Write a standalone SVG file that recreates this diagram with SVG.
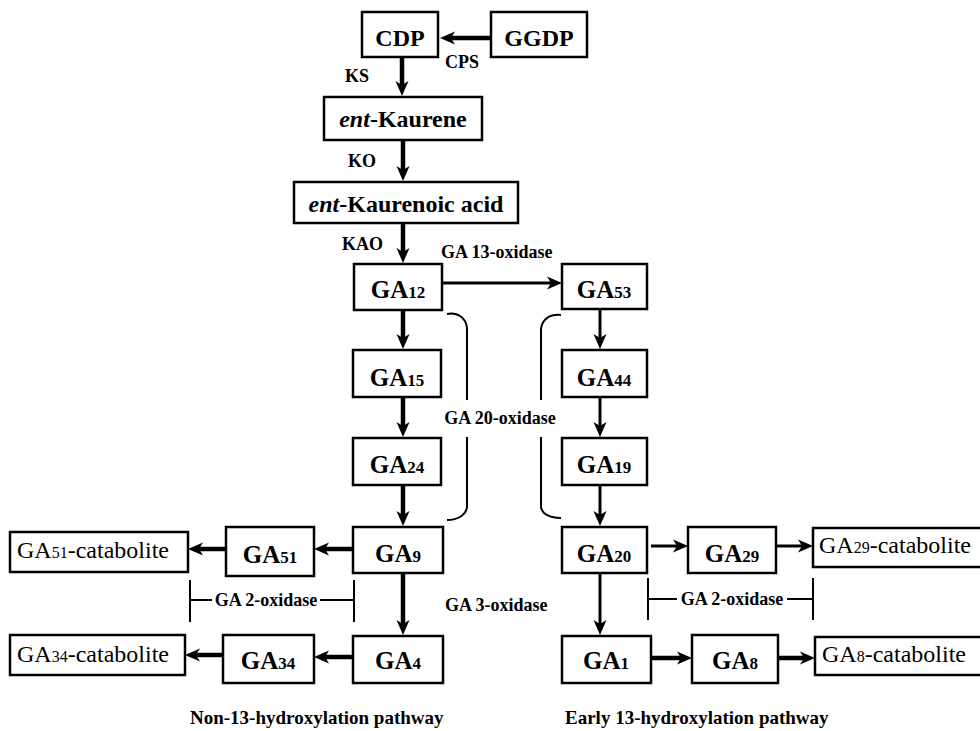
<svg xmlns="http://www.w3.org/2000/svg" width="980" height="731" viewBox="0 0 980 731">
<style>
.box{fill:#fff;stroke:#000;stroke-width:2.5}
.n{font-family:"Liberation Serif","Times New Roman",serif;font-weight:bold;font-size:24px;text-anchor:middle;fill:#000}
.ga{font-family:"Liberation Serif","Times New Roman",serif;font-weight:bold;font-size:25px;text-anchor:middle;fill:#000}
.sub{font-size:17px}
.cat{font-family:"Liberation Serif","Times New Roman",serif;font-size:24px;fill:#000}
.csub{font-size:16px}
.enz{font-family:"Liberation Serif","Times New Roman",serif;font-weight:bold;font-size:18px;fill:#000}
.foot{font-family:"Liberation Serif","Times New Roman",serif;font-weight:bold;font-size:19px;fill:#000}
.c{fill:none;stroke:#000;marker-end:url(#ah)}
.thick{stroke-width:4.5}
.thin{stroke-width:3}
.br{fill:none;stroke:#000;stroke-width:2}
</style>
<defs>
<marker id="ah" markerUnits="userSpaceOnUse" markerWidth="16" markerHeight="14" viewBox="0 -7 16 14" refX="7" refY="0" orient="auto">
<path d="M0,-6.5 L15,0 L0,6.5 L4,0 z" fill="#000"/>
</marker>
</defs>

<g id="connectors">
<path class="c thick" d="M491,38 H448"/>
<path class="c thick" d="M402,57 V88"/>
<path class="c thick" d="M403,140 V173"/>
<path class="c thick" d="M403,223 V255"/>
<path class="c thin" d="M442,283 H554"/>
<path class="c thick" d="M403,310 V341"/>
<path class="c thick" d="M403,397 V429"/>
<path class="c thick" d="M403,485 V518"/>
<path class="c thick" d="M403,573 V627"/>
<path class="c thick" d="M353,549 H322"/>
<path class="c thick" d="M226,549 H196"/>
<path class="c thick" d="M353,657 H322"/>
<path class="c thick" d="M223,655 H193"/>
<path class="c thin" d="M600,309 V341"/>
<path class="c thin" d="M600,397 V429"/>
<path class="c thin" d="M600,485 V518"/>
<path class="c thin" d="M600,573 V627"/>
<path class="c thin" d="M651,546 H680"/>
<path class="c thin" d="M776,546 H805"/>
<path class="c thick" d="M651,658 H684"/>
<path class="c thick" d="M778,658 H807"/>
<path class="br" d="M447,314 C458,312 466,318 467,328 V400 M467,437 V507 C466,515 458,520 447,520"/>
<path class="br" d="M561,315 C550,314 542,319 541,329 V400 M541,437 V507 C542,514 550,518 561,518"/>
<path class="br" d="M190,580 V622 M354,580 V622 M190,600 H212 M320,600 H354"/>
<path class="br" d="M648,578 V620 M813,578 V620 M648,599 H677 M787,599 H813"/>
</g>

<g id="CDP"><rect class="box" x="362" y="12" width="76" height="45"/><text class="n" x="400" y="46">CDP</text></g>
<g id="GGDP"><rect class="box" x="491" y="12" width="96" height="45"/><text class="n" x="539" y="46">GGDP</text></g>
<g id="entKaurene"><rect class="box" x="324" y="97" width="158" height="43"/><text class="n" x="403" y="127"><tspan font-style="italic">ent</tspan>-Kaurene</text></g>
<g id="entKaurenoicAcid"><rect class="box" x="294" y="182" width="224" height="41"/><text class="n" x="406" y="212"><tspan font-style="italic">ent</tspan>-Kaurenoic acid</text></g>

<g id="GA12"><rect class="box" x="354" y="264" width="88" height="46"/><text class="ga" x="398" y="298">GA<tspan class="sub">12</tspan></text></g>
<g id="GA15"><rect class="box" x="353" y="350" width="88" height="47"/><text class="ga" x="397" y="386">GA<tspan class="sub">15</tspan></text></g>
<g id="GA24"><rect class="box" x="353" y="438" width="88" height="47"/><text class="ga" x="397" y="473">GA<tspan class="sub">24</tspan></text></g>
<g id="GA9"><rect class="box" x="353" y="527" width="90" height="46"/><text class="ga" x="398" y="562">GA<tspan class="sub">9</tspan></text></g>
<g id="GA4"><rect class="box" x="353" y="636" width="90" height="47"/><text class="ga" x="398" y="669">GA<tspan class="sub">4</tspan></text></g>
<g id="GA51"><rect class="box" x="226" y="527" width="88" height="49"/><text class="ga" x="270" y="563">GA<tspan class="sub">51</tspan></text></g>
<g id="GA34"><rect class="box" x="223" y="635" width="91" height="48"/><text class="ga" x="268" y="669">GA<tspan class="sub">34</tspan></text></g>
<g id="GA51cat"><rect class="box" x="10" y="532" width="178" height="40"/><text class="cat" x="17" y="558">GA<tspan class="csub">51</tspan>-catabolite</text></g>
<g id="GA34cat"><rect class="box" x="10" y="635" width="175" height="40"/><text class="cat" x="17" y="662">GA<tspan class="csub">34</tspan>-catabolite</text></g>

<g id="GA53"><rect class="box" x="562" y="264" width="85" height="45"/><text class="ga" x="604" y="298">GA<tspan class="sub">53</tspan></text></g>
<g id="GA44"><rect class="box" x="562" y="350" width="85" height="47"/><text class="ga" x="604" y="386">GA<tspan class="sub">44</tspan></text></g>
<g id="GA19"><rect class="box" x="562" y="438" width="85" height="47"/><text class="ga" x="604" y="473">GA<tspan class="sub">19</tspan></text></g>
<g id="GA20"><rect class="box" x="562" y="527" width="85" height="46"/><text class="ga" x="604" y="562">GA<tspan class="sub">20</tspan></text></g>
<g id="GA1"><rect class="box" x="562" y="636" width="89" height="47"/><text class="ga" x="606" y="669">GA<tspan class="sub">1</tspan></text></g>
<g id="GA29"><rect class="box" x="688" y="527" width="88" height="46"/><text class="ga" x="732" y="562">GA<tspan class="sub">29</tspan></text></g>
<g id="GA8"><rect class="box" x="692" y="635" width="86" height="48"/><text class="ga" x="735" y="669">GA<tspan class="sub">8</tspan></text></g>
<g id="GA29cat"><rect class="box" x="813" y="528" width="180" height="39"/><text class="cat" x="819" y="553">GA<tspan class="csub">29</tspan>-catabolite</text></g>
<g id="GA8cat"><rect class="box" x="815" y="637" width="180" height="38"/><text class="cat" x="822" y="662">GA<tspan class="csub">8</tspan>-catabolite</text></g>

<g id="labels">
<text class="enz" x="345" y="82">KS</text>
<text class="enz" x="445" y="68">CPS</text>
<text class="enz" x="348" y="167">KO</text>
<text class="enz" x="342" y="250">KAO</text>
<text class="enz" x="441" y="258">GA 13-oxidase</text>
<text class="enz" x="500" y="424" text-anchor="middle">GA 20-oxidase</text>
<text class="enz" x="266" y="606" text-anchor="middle">GA 2-oxidase</text>
<text class="enz" x="732" y="605" text-anchor="middle">GA 2-oxidase</text>
<text class="enz" x="445" y="611">GA 3-oxidase</text>
<text class="foot" x="190" y="724">Non-13-hydroxylation pathway</text>
<text class="foot" x="565" y="724">Early 13-hydroxylation pathway</text>
</g>
</svg>
